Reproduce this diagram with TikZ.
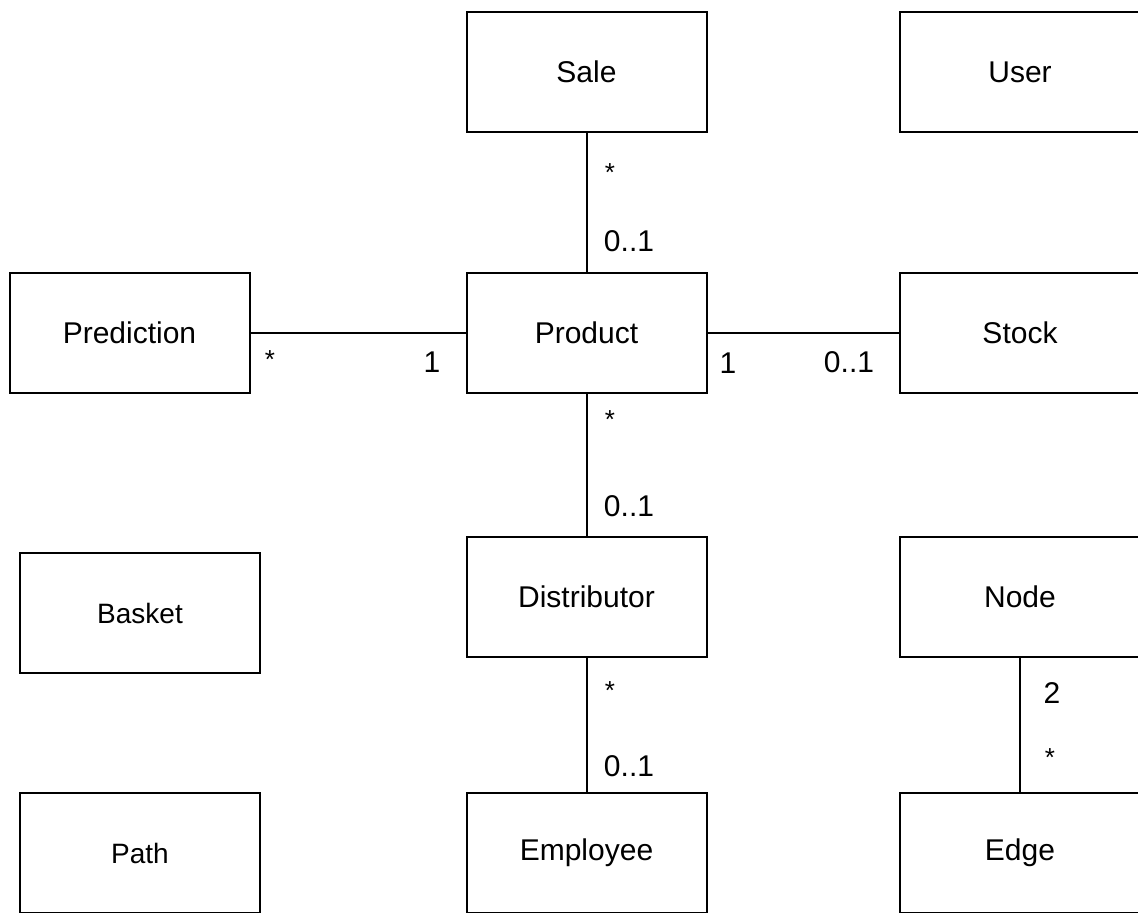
\documentclass[tikz,border=0pt]{standalone}
\usepackage{fontspec}
\setmainfont{Liberation Sans}
\usetikzlibrary{positioning}

\begin{document}
\begin{tikzpicture}[x=1pt,y=-1pt,
    cls/.style={draw, line width=2pt, minimum width=240pt,
        minimum height=120pt, inner sep=0pt,
        font=\fontsize{30}{36}\selectfont},
    small cls/.style={cls, font=\fontsize{28}{34}\selectfont},
    mult/.style={anchor=base, inner sep=0pt,
        font=\fontsize{30}{36}\selectfont},
    star/.style={mult, font=\fontsize{26}{30}\selectfont},
    assoc/.style={line width=2pt}]
    \useasboundingbox (0,0) rectangle (1138,913);

    % classes
    \node[cls] (sale) at (586.5,72) {Sale};
    \node[cls] (user) at (1020,72) {User};
    \node[cls] (prediction) at (129.5,332.5) {Prediction};
    \node[cls] (product) at (586.5,332.5) {Product};
    \node[cls] (stock) at (1020,332.5) {Stock};
    \node[small cls] (basket) at (140,613) {Basket};
    \node[cls] (distributor) at (586.5,597) {Distributor};
    \node[cls] (graphnode) at (1020,597) {Node};
    \node[small cls] (path) at (140,853) {Path};
    \node[cls] (employee) at (586.5,853) {Employee};
    \node[cls] (edge) at (1020,853) {Edge};

    % associations
    \draw[assoc] (sale) -- (product);
    \draw[assoc] (product) -- (distributor);
    \draw[assoc] (distributor) -- (employee);
    \draw[assoc] (prediction) -- (product);
    \draw[assoc] (product) -- (stock);
    \draw[assoc] (graphnode) -- (edge);

    % multiplicities
    \node[star] (m-sale) at (610,181) {*};
    \node[mult] (m-prod-s) at (629,251) {0..1};
    \node[star] (m-prod-d) at (610,428) {*};
    \node[mult] (m-dist-p) at (629,516) {0..1};
    \node[star] (m-dist-e) at (610,699) {*};
    \node[mult] (m-emp) at (629,776) {0..1};
    \node[star] (m-pred) at (270,368) {*};
    \node[mult] (m-prod-p) at (432,372) {1};
    \node[mult] (m-prod-st) at (728,373) {1};
    \node[mult] (m-stock) at (849,372) {0..1};
    \node[mult] (m-node) at (1052,703) {2};
    \node[star] (m-edge) at (1050,766) {*};
\end{tikzpicture}
\end{document}
